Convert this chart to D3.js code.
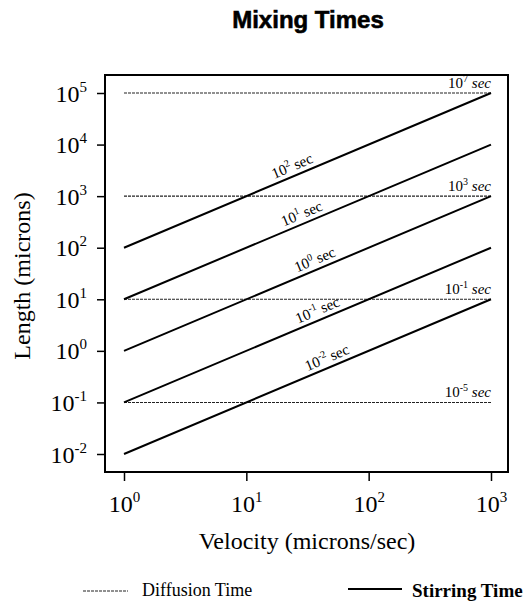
<!DOCTYPE html>
<html>
<head>
<meta charset="utf-8">
<script src="https://cdn.jsdelivr.net/npm/d3@7"></script>
<style>
  body { margin: 0; background: #fff; }
  svg { display: block; }
</style>
</head>
<body>
<svg id="chart" width="528" height="610"></svg>
<script>
// ---- data ----
const xTicks = [1, 10, 100, 1000];
const xTickExp = ["0", "1", "2", "3"];
const yTicks = [1e-2, 1e-1, 1, 10, 100, 1e3, 1e4, 1e5];
const yTickExp = ["-2", "-1", "0", "1", "2", "3", "4", "5"];
const velocityRange = [1, 1000];

// diffusion: horizontal lines (length) with time labels
const diffusionLengths = [1e5, 1e3, 1e1, 1e-1];
const diffusionExp = ["7", "3", "-1", "-5"];

// stirring: L = v * t
const stirringTimes = [100, 10, 1, 0.1, 0.01];
const stirringExp = ["2", "1", "0", "-1", "-2"];
const stirringLabelVelocity = [25.5, 30.5, 39, 41, 49];

const serif = "'Liberation Serif','Times New Roman',serif";
const svg = d3.select("#chart");

const x = d3.scaleLog().domain([1, 1000]).range([124, 491]);
const y = d3.scaleLog().domain([1e-2, 1e5]).range([454, 93]);

const frame = {left: 105, right: 508, top: 75, bottom: 472};

// title
svg.append("text")
  .attr("x", 308).attr("y", 28)
  .attr("text-anchor", "middle")
  .attr("font-family", "'Liberation Sans',Arial,sans-serif")
  .attr("font-weight", "bold")
  .attr("font-size", 24)
  .attr("stroke", "#000").attr("stroke-width", 0.6)
  .text("Mixing Times");

function sup(sel, base, exp, supSize, rise) {
  sel.text(null);
  sel.append("tspan").text(base);
  sel.append("tspan").attr("dy", -rise).attr("font-size", supSize).text(exp);
}

// axes
const xAxis = d3.axisBottom(x).tickValues(xTicks).tickSize(9).tickFormat(() => "");
const gx = svg.append("g").attr("transform", `translate(0,${frame.bottom})`).call(xAxis);
gx.select(".domain").remove();
gx.selectAll(".tick line").attr("stroke", "#000").attr("stroke-width", 1.5);
gx.selectAll(".tick text")
  .attr("y", 40).attr("dy", 0)
  .attr("font-family", serif).attr("font-size", 24).attr("fill", "#000")
  .each(function(d, i) { sup(d3.select(this), "10", xTickExp[i], 15, 10); });

const yAxis = d3.axisLeft(y).tickValues(yTicks).tickSize(8).tickFormat(() => "");
const gy = svg.append("g").attr("transform", `translate(${frame.left},0)`).call(yAxis);
gy.select(".domain").remove();
gy.selectAll(".tick line").attr("stroke", "#000").attr("stroke-width", 1.5);
gy.selectAll(".tick text")
  .attr("x", -18).attr("dy", 8)
  .attr("font-family", serif).attr("font-size", 24).attr("fill", "#000")
  .attr("text-anchor", "end")
  .each(function(d, i) { sup(d3.select(this), "10", yTickExp[i], 15, 10); });

// frame
svg.append("rect")
  .attr("x", frame.left).attr("y", frame.top)
  .attr("width", frame.right - frame.left).attr("height", frame.bottom - frame.top)
  .attr("fill", "none").attr("stroke", "#000").attr("stroke-width", 2);

// diffusion lines
const line = d3.line().x(d => x(d[0])).y(d => y(d[1]));
diffusionLengths.forEach((L, i) => {
  svg.append("path")
    .attr("d", line(velocityRange.map(v => [v, L])))
    .attr("fill", "none").attr("stroke", "#222").attr("stroke-width", 1.1)
    .attr("stroke-dasharray", "3,1");
  const t = svg.append("text")
    .attr("x", x(velocityRange[1])).attr("y", y(L) - 5)
    .attr("text-anchor", "end")
    .attr("font-family", serif).attr("font-size", 15);
  t.append("tspan").text("10");
  t.append("tspan").attr("dy", -6).attr("font-size", 10).text(diffusionExp[i]);
  t.append("tspan").attr("dy", 6).attr("font-style", "italic").text(" sec");
});

// stirring lines
stirringTimes.forEach((tm, i) => {
  svg.append("path")
    .attr("d", line(velocityRange.map(v => [v, v * tm])))
    .attr("fill", "none").attr("stroke", "#000").attr("stroke-width", 2);
  const ang = Math.atan2(y(velocityRange[1] * tm) - y(velocityRange[0] * tm),
                         x(velocityRange[1]) - x(velocityRange[0])) * 180 / Math.PI;
  const v = stirringLabelVelocity[i];
  const px = x(v), py = y(v * tm);
  const t = svg.append("text")
    .attr("transform", `translate(${px},${py}) rotate(${ang})`)
    .attr("y", -5)
    .attr("text-anchor", "middle")
    .attr("font-family", serif).attr("font-size", 15);
  t.append("tspan").text("10");
  t.append("tspan").attr("dy", -6).attr("font-size", 10).text(stirringExp[i]);
  t.append("tspan").attr("dy", 6).text(" sec");
});

// axis titles
svg.append("text")
  .attr("x", 307).attr("y", 549)
  .attr("text-anchor", "middle")
  .attr("font-family", serif).attr("font-size", 24)
  .text("Velocity (microns/sec)");

svg.append("text")
  .attr("transform", `translate(30,276) rotate(-90)`)
  .attr("text-anchor", "middle")
  .attr("font-family", serif).attr("font-size", 24)
  .text("Length (microns)");

// legend
const legY = 591;
svg.append("line").attr("x1", 83).attr("x2", 128).attr("y1", legY).attr("y2", legY)
  .attr("stroke", "#222").attr("stroke-width", 1.1).attr("stroke-dasharray", "3,1");
svg.append("text").attr("x", 142).attr("y", legY + 5)
  .attr("font-family", serif).attr("font-size", 18).text("Diffusion Time");
svg.append("line").attr("x1", 348).attr("x2", 402).attr("y1", legY - 2).attr("y2", legY - 2)
  .attr("stroke", "#000").attr("stroke-width", 2);
svg.append("text").attr("x", 412).attr("y", legY + 6)
  .attr("font-family", serif).attr("font-weight", "bold").attr("font-size", 19).text("Stirring Time");
</script>
</body>
</html>
